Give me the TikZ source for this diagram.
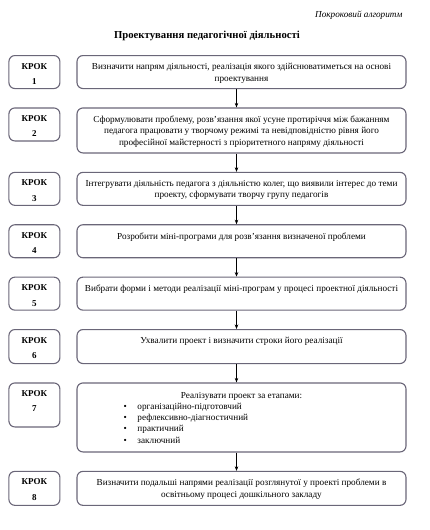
\documentclass[tikz,border=0pt]{standalone}
\usepackage{fontspec}
\setmainfont{Liberation Serif}
\usetikzlibrary{arrows.meta, positioning}

\definecolor{frame}{HTML}{6A6678}

\begin{document}
\begin{tikzpicture}[x=1pt, y=-1pt, node distance=18.3pt,
    stepbox/.style={rectangle, draw=frame, line width=1.1pt, rounded corners=6pt, minimum width=329pt, inner sep=0pt, anchor=north, font=\fontsize{9.2}{11.3}\selectfont},
    krok/.style={rectangle, draw=frame, line width=1.1pt, rounded corners=6pt, minimum width=51pt, inner sep=0pt, font=\bfseries\fontsize{9}{15.5}\selectfont},
    arrow/.style={line width=0.5pt,->,>={Stealth[length=4.5pt,width=3.5pt]}}]
    \useasboundingbox (0,0) rectangle (430,530);
    \node [anchor=east, font=\itshape\fontsize{9.2}{11}\selectfont] (algo) at (406,15) {Покроковий алгоритм};
    \node [font=\bfseries\fontsize{10.7}{12}\selectfont] (title) at (207,36) {Проектування педагогічної діяльності};

    \node [stepbox] (b1) at (241.5,55) {\parbox[c][33pt][t]{316pt}{\centering\vspace{8pt}Визначити напрям діяльності, реалізація якого здійснюватиметься на основі проектування}};
    \node [stepbox, below=of b1] (b2) {\parbox[c][45pt][t]{316pt}{\centering\vspace{8pt}Сформулювати проблему, розв’язання якої усуне протиріччя між бажанням педагога працювати у творчому режимі та невідповідністю рівня його професійної майстерності з пріоритетного напряму діяльності}};
    \node [stepbox, below=of b2] (b3) {\parbox[c][33pt][t]{316pt}{\centering\vspace{8pt}Інтегрувати діяльність педагога з діяльністю колег, що виявили інтерес до теми проекту, сформувати творчу групу педагогів}};
    \node [stepbox, below=of b3] (b4) {\parbox[c][33pt][t]{316pt}{\centering\vspace{8pt}Розробити міні-програми для розв’язання визначеної проблеми}};
    \node [stepbox, below=of b4] (b5) {\parbox[c][33pt][t]{316pt}{\centering\vspace{8pt}Вибрати форми і методи реалізації міні-програм у процесі проектної діяльності}};
    \node [stepbox, below=of b5] (b6) {\parbox[c][34pt][t]{316pt}{\centering\vspace{8pt}Ухвалити проект і визначити строки його реалізації}};
    \node [stepbox, below=of b6] (b7) {\parbox[c][69pt][t]{316pt}{\vspace{9pt}{\centering Реалізувати проект за етапами:\par}
        \hspace*{40pt}\makebox[14pt][l]{\textbullet}організаційно-підготовчий\\
        \hspace*{40pt}\makebox[14pt][l]{\textbullet}рефлексивно-діагностичний\\
        \hspace*{40pt}\makebox[14pt][l]{\textbullet}практичний\\
        \hspace*{40pt}\makebox[14pt][l]{\textbullet}заключний}};
    \node [stepbox, below=of b7] (b8) {\parbox[c][34pt][t]{316pt}{\centering\vspace{8pt}Визначити подальші напрями реалізації розглянутої у проекті проблеми в освітньому процесі дошкільного закладу}};

    % step labels
    \node [krok, left=16pt of b1.north west, anchor=north east] (k1) {\parbox[c][33pt][t]{51pt}{\centering\vspace{7.5pt}КРОК\\1}};
    \node [krok, left=16pt of b2.north west, anchor=north east] (k2) {\parbox[c][33pt][t]{51pt}{\centering\vspace{7.5pt}КРОК\\2}};
    \node [krok, left=16pt of b3.north west, anchor=north east] (k3) {\parbox[c][33pt][t]{51pt}{\centering\vspace{7.5pt}КРОК\\3}};
    \node [krok, left=16pt of b4.north west, anchor=north east] (k4) {\parbox[c][33pt][t]{51pt}{\centering\vspace{7.5pt}КРОК\\4}};
    \node [krok, left=16pt of b5.north west, anchor=north east] (k5) {\parbox[c][33pt][t]{51pt}{\centering\vspace{7.5pt}КРОК\\5}};
    \node [krok, left=16pt of b6.north west, anchor=north east] (k6) {\parbox[c][34pt][t]{51pt}{\centering\vspace{7.5pt}КРОК\\6}};
    \node [krok, left=16pt of b7.north west, anchor=north east] (k7) {\parbox[c][44pt][t]{51pt}{\centering\vspace{7.5pt}КРОК\\7}};
    \node [krok, left=16pt of b8.north west, anchor=north east] (k8) {\parbox[c][34pt][t]{51pt}{\centering\vspace{7.5pt}КРОК\\8}};

    \draw [arrow] ([xshift=-5pt]b1.south) -- ([xshift=-5pt]b2.north);
    \draw [arrow] ([xshift=-5pt]b2.south) -- ([xshift=-5pt]b3.north);
    \draw [arrow] ([xshift=-5pt]b3.south) -- ([xshift=-5pt]b4.north);
    \draw [arrow] ([xshift=-5pt]b4.south) -- ([xshift=-5pt]b5.north);
    \draw [arrow] ([xshift=-5pt]b5.south) -- ([xshift=-5pt]b6.north);
    \draw [arrow] ([xshift=-5pt]b6.south) -- ([xshift=-5pt]b7.north);
    \draw [arrow] ([xshift=-5pt]b7.south) -- ([xshift=-5pt]b8.north);
\end{tikzpicture}
\end{document}
